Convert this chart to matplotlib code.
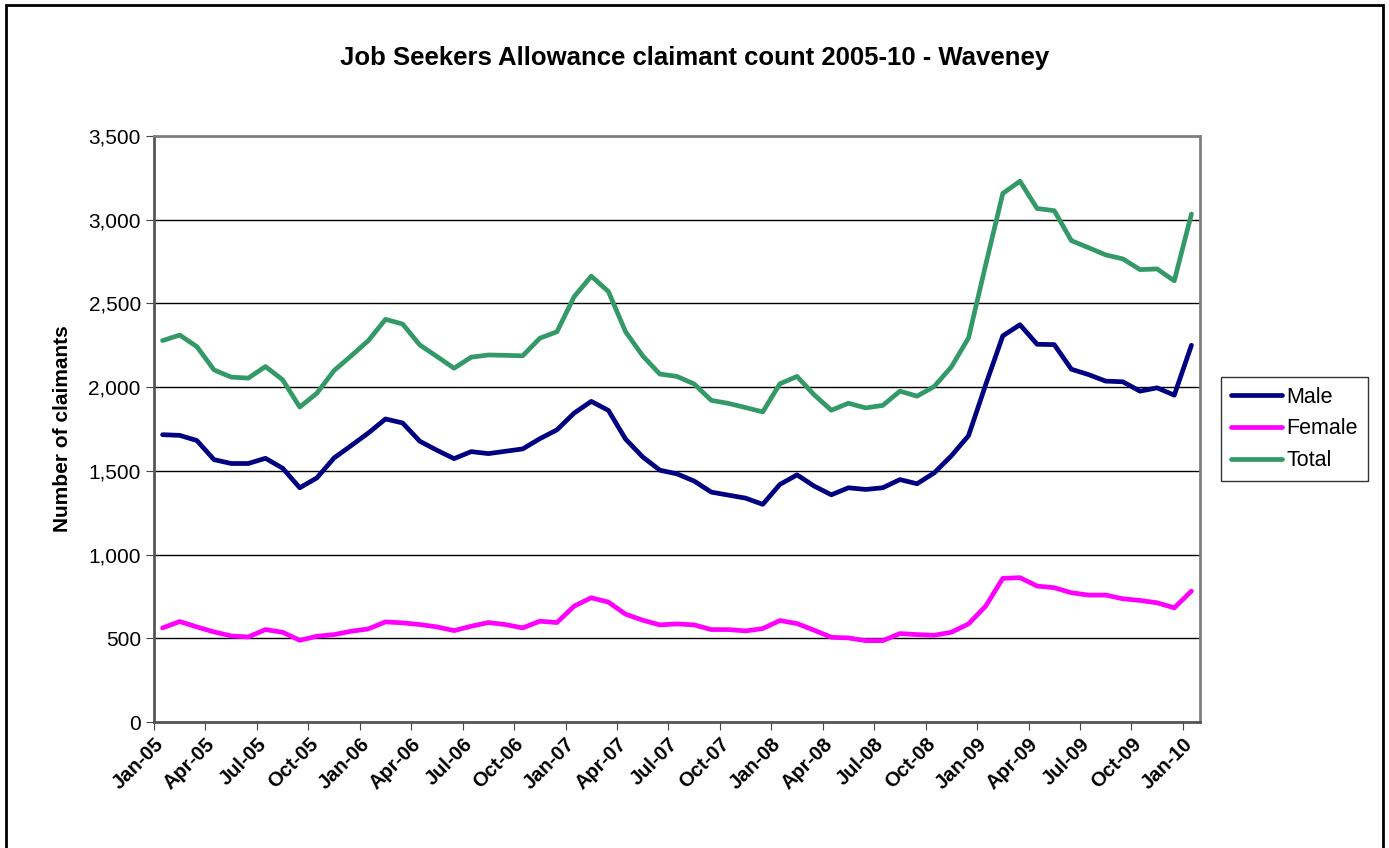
import numpy as np
import matplotlib
matplotlib.use("Agg")
import matplotlib.pyplot as plt
from matplotlib.patches import Rectangle
from matplotlib.ticker import FuncFormatter

# monthly claimant counts, Jan-05 .. Jan-10
male = [1716, 1712, 1681, 1567, 1544, 1544, 1575, 1516, 1399, 1458, 1577, 1651,
        1726, 1810, 1786, 1677, 1623, 1573, 1615, 1603, 1617, 1631, 1692, 1745,
        1845, 1915, 1861, 1690, 1583, 1504, 1482, 1439, 1373, 1355, 1337, 1300,
        1419, 1476, 1409, 1357, 1399, 1389, 1399, 1448, 1423, 1488, 1590, 1710,
        2014, 2306, 2373, 2256, 2254, 2107, 2075, 2036, 2032, 1976, 1996, 1952,
        2250]
female = [562, 600, 568, 538, 514, 508, 552, 536, 488, 512, 522, 542,
          556, 598, 592, 582, 568, 546, 572, 594, 582, 562, 602, 594,
          692, 742, 716, 644, 608, 580, 586, 580, 552, 552, 544, 558,
          606, 588, 548, 506, 502, 486, 486, 528, 522, 518, 536, 586,
          692, 858, 862, 812, 802, 772, 758, 758, 736, 726, 712, 682,
          782]
total = [2278, 2311, 2242, 2103, 2060, 2054, 2123, 2044, 1881, 1964, 2099, 2187,
         2278, 2405, 2377, 2252, 2183, 2113, 2179, 2192, 2190, 2187, 2292, 2331,
         2540, 2663, 2571, 2331, 2187, 2078, 2064, 2019, 1921, 1903, 1878, 1852,
         2020, 2064, 1954, 1862, 1904, 1876, 1891, 1976, 1946, 2004, 2121, 2294,
         2730, 3157, 3230, 3067, 3054, 2875, 2833, 2790, 2766, 2702, 2706, 2635,
         3034]
tick_labels = ["Jan-05", "Apr-05", "Jul-05", "Oct-05", "Jan-06", "Apr-06", "Jul-06",
               "Oct-06", "Jan-07", "Apr-07", "Jul-07", "Oct-07", "Jan-08", "Apr-08",
               "Jul-08", "Oct-08", "Jan-09", "Apr-09", "Jul-09", "Oct-09", "Jan-10"]

plt.rcParams['font.family'] = ['Liberation Sans', 'DejaVu Sans']

fig = plt.figure(figsize=(13.89, 8.48), dpi=100)
ax = fig.add_axes([154 / 1389, 1 - 722 / 848, (1200 - 154) / 1389, (722 - 136) / 848])

# outer chart border
fig.patches.append(Rectangle((6 / 1389, -0.05), (1383 - 6) / 1389, 1.05 - 5 / 848,
                             transform=fig.transFigure, fill=False,
                             edgecolor="black", linewidth=2))

x = np.arange(len(male))
ax.plot(x, male, color="#000080", lw=3.4, label="Male", solid_capstyle="round")
ax.plot(x, female, color="#FF00FF", lw=3.4, label="Female", solid_capstyle="round")
ax.plot(x, total, color="#339966", lw=3.4, label="Total", solid_capstyle="round")

ax.set_xlim(-0.5, len(male) - 0.5)
ax.set_ylim(0, 3500)
ax.set_yticks(np.arange(0, 3501, 500))
ax.yaxis.set_major_formatter(FuncFormatter(lambda v, p: f"{int(v):,}"))
ax.yaxis.grid(True, color="black", lw=1)
ax.set_axisbelow(True)

ax.set_xticks(np.arange(0, len(male), 3) - 0.5)
ax.set_xticklabels(tick_labels, rotation=45, ha="right", rotation_mode="anchor",
                   fontsize=14.5, fontweight="bold")
ax.tick_params(axis="y", labelsize=15, direction="out", length=6, color="#444444")
ax.tick_params(axis="x", direction="out", length=6, color="#444444", pad=3)

for s in ["top", "right"]:
    ax.spines[s].set_color("#808080")
    ax.spines[s].set_linewidth(2)
for s in ["left", "bottom"]:
    ax.spines[s].set_color("#555555")
    ax.spines[s].set_linewidth(2)

ax.set_ylabel("Number of claimants", fontsize=15, fontweight="bold", labelpad=12)
fig.text(695 / 1389, 1 - 58 / 848, "Job Seekers Allowance claimant count 2005-10 - Waveney",
         ha="center", va="center", fontsize=18.5, fontweight="bold")

leg = ax.legend(loc="center left", bbox_to_anchor=(1.02, 0.5), fontsize=15.5,
                frameon=True, fancybox=False, edgecolor="black", handlelength=2.4,
                handletextpad=0.2, borderpad=0.45, labelspacing=0.5, borderaxespad=0)
leg.get_frame().set_linewidth(1)

fig.savefig("out.png", dpi=100)
